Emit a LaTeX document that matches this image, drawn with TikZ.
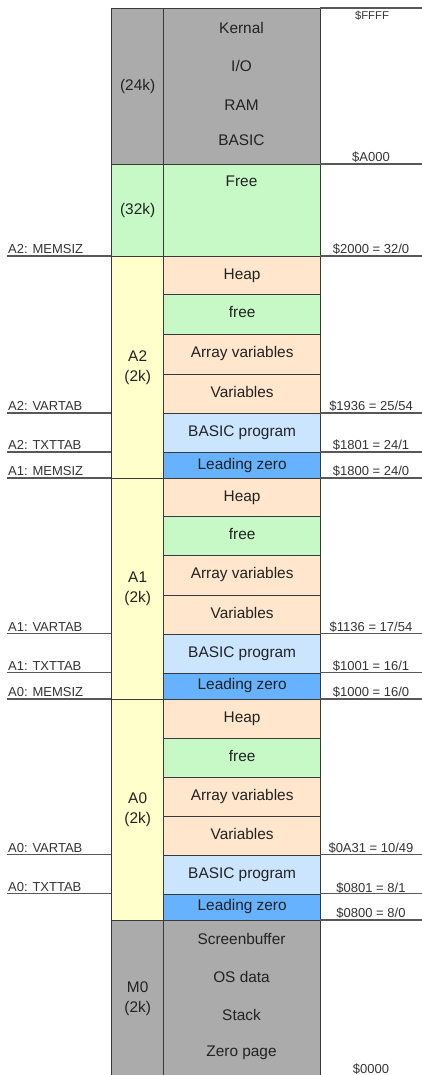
\documentclass[tikz,border=0pt]{standalone}
\usepackage{fontspec}
\setmainfont{Liberation Sans}
\definecolor{cgray}{HTML}{ABABAB}
\definecolor{cgreen}{HTML}{C6F9C6}
\definecolor{cyellow}{HTML}{FFFFCC}
\definecolor{cpeach}{HTML}{FFE6CC}
\definecolor{clblue}{HTML}{CCE5FF}
\definecolor{cblue}{HTML}{66B2FF}
\definecolor{lc}{HTML}{3A3A3A}
\definecolor{txt}{HTML}{222222}
\definecolor{sidetxt}{HTML}{333333}
\newcommand{\bigf}{\fontsize{15.4}{20}\selectfont}
\newcommand{\smallf}{\fontsize{13}{15}\selectfont}
\tikzset{
  lcol/.style={draw=lc, line width=1.3pt, anchor=north west, minimum width=52pt, inner sep=0pt, align=center, font=\bigf, text=txt},
  rcol/.style={draw=lc, line width=1.3pt, anchor=north west, minimum width=157pt, inner sep=0pt, font=\bigf, text=txt, text height=11pt, text depth=4pt},
  lbl/.style={font=\bigf, text=txt, inner sep=0pt, text height=11pt, text depth=4pt},
  sidel/.style={font=\smallf, text=sidetxt, inner sep=0pt, anchor=base west},
  sider/.style={font=\smallf, text=sidetxt, inner sep=0pt, anchor=base},
  mline/.style={draw=lc!85, line width=1.3pt}
}
\begin{document}
\begin{tikzpicture}[x=1pt, y=-1pt]
\useasboundingbox (0,0) rectangle (422,1075);
% left column
\node[lcol, fill=cgray, minimum height=156pt] (rom) at (111,8) {(24k)};
\node[lcol, fill=cgreen, minimum height=92pt] (hi) at (111,164) {(32k)};
\node[lcol, fill=cyellow, minimum height=222pt] (a2) at (111,256) {A2\\(2k)};
\node[lcol, fill=cyellow, minimum height=221pt] (a1) at (111,478) {A1\\(2k)};
\node[lcol, fill=cyellow, minimum height=221pt] (a0) at (111,699) {A0\\(2k)};
\node[lcol, fill=cgray, minimum height=156pt] (m0) at (111,920) {M0\\(2k)};
\path (m0.south west) -- (m0.south east); % bottom edge lies below the page
% right column: top
\node[rcol, fill=cgray, minimum height=156pt] (romr) at (163,8) {};
\node[lbl] (kern) at (241.5,30) {Kernal};
\node[lbl] (io) at (241.5,68) {I/O};
\node[lbl] (ram) at (241.5,107) {RAM};
\node[lbl] (bas) at (241.5,142) {BASIC};
\node[rcol, fill=cgreen, minimum height=92pt] (hir) at (163,164) {};
\node[lbl] (freet) at (241.5,183) {Free};
% A2
\node[rcol, fill=cpeach, minimum height=38pt] (a2h) at (163,256) {Heap};
\node[rcol, fill=cgreen, minimum height=39.5pt] (a2f) at (163,294) {free};
\node[rcol, fill=cpeach, minimum height=40pt] (a2a) at (163,333.5) {Array variables};
\node[rcol, fill=cpeach, minimum height=39.5pt] (a2v) at (163,373.5) {Variables};
\node[rcol, fill=clblue, minimum height=39pt] (a2b) at (163,413) {BASIC program};
\node[rcol, fill=cblue, minimum height=26pt] (a2z) at (163,452) {Leading zero};
% A1
\node[rcol, fill=cpeach, minimum height=38pt] (a1h) at (163,478) {Heap};
\node[rcol, fill=cgreen, minimum height=39pt] (a1f) at (163,516) {free};
\node[rcol, fill=cpeach, minimum height=39.5pt] (a1a) at (163,555) {Array variables};
\node[rcol, fill=cpeach, minimum height=39pt] (a1v) at (163,594.5) {Variables};
\node[rcol, fill=clblue, minimum height=39pt] (a1b) at (163,633.5) {BASIC program};
\node[rcol, fill=cblue, minimum height=26.5pt] (a1z) at (163,672.5) {Leading zero};
% A0
\node[rcol, fill=cpeach, minimum height=38.5pt] (a0h) at (163,699) {Heap};
\node[rcol, fill=cgreen, minimum height=39pt] (a0f) at (163,737.5) {free};
\node[rcol, fill=cpeach, minimum height=39pt] (a0a) at (163,776.5) {Array variables};
\node[rcol, fill=cpeach, minimum height=39pt] (a0v) at (163,815.5) {Variables};
\node[rcol, fill=clblue, minimum height=39pt] (a0b) at (163,854.5) {BASIC program};
\node[rcol, fill=cblue, minimum height=26.5pt] (a0z) at (163,893.5) {Leading zero};
% M0 (runs past the bottom of the page)
\node[rcol, fill=cgray, minimum height=160pt] (m0r) at (163,920) {};
\node[lbl] (scr) at (241.5,941) {Screenbuffer};
\node[lbl] (osd) at (241.5,979) {OS data};
\node[lbl] (stk) at (241.5,1017) {Stack};
\node[lbl] (zp) at (241.5,1053) {Zero page};
% left marker lines and labels
\foreach \y/\n/\t in {256/l1/A2: MEMSIZ, 413/l2/A2: VARTAB, 452/l3/A2: TXTTAB, 478/l4/A1: MEMSIZ, 633.5/l5/A1: VARTAB, 672.5/l6/A1: TXTTAB, 699/l7/A0: MEMSIZ, 854.5/l8/A0: VARTAB, 893.5/l9/A0: TXTTAB}{
  \coordinate (\n) at (7,\y);
  \draw[mline] (\n) -- ++(104,0);
  \node[sidel] (\n t) at (8,\y-2.5) {\t};
}
% right marker lines
\foreach \y/\n in {8/r0, 164/r1, 256/r2, 413/r3, 452/r4, 478/r5, 633.5/r6, 672.5/r7, 699/r8, 854.5/r9, 893.5/r10, 920/r11}{
  \coordinate (\n) at (422,\y);
  \draw[mline] (320,\y) -- (\n);
}
% right labels
\node[sider, font=\fontsize{11.3}{13}\selectfont] (tffff) at (372,19.5) {\$FFFF};
\node[sider] (ta000) at (371,161.5) {\$A000};
\node[sider] (t2000) at (371,253.5) {\$2000 = 32/0};
\node[sider] (t1936) at (371,410.5) {\$1936 = 25/54};
\node[sider] (t1801) at (371,449) {\$1801 = 24/1};
\node[sider] (t1800) at (371,475.7) {\$1800 = 24/0};
\node[sider] (t1136) at (371,631.2) {\$1136 = 17/54};
\node[sider] (t1001) at (371,670.5) {\$1001 = 16/1};
\node[sider] (t1000) at (371,696.4) {\$1000 = 16/0};
\node[sider] (t0a31) at (371,852.5) {\$0A31 = 10/49};
\node[sider] (t0801) at (371,892.2) {\$0801 = 8/1};
\node[sider] (t0800) at (371,917.8) {\$0800 = 8/0};
\node[sider] (t0000) at (371,1073.5) {\$0000};
\end{tikzpicture}
\end{document}
